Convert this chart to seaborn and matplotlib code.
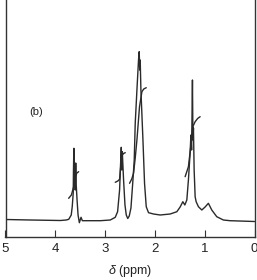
import matplotlib
matplotlib.use("Agg")
import matplotlib.pyplot as plt
import seaborn as sns
import pandas as pd

# Spectrum trace (chemical shift in ppm, intensity in arbitrary units)
shift = [5.0, 4.50, 3.90, 3.78, 3.73, 3.68, 3.66, 3.64, 3.635, 3.627, 3.62, 3.607,
         3.60, 3.59, 3.58, 3.563, 3.543, 3.517, 3.483, 3.457, 3.357, 3.096, 2.896,
         2.796, 2.749, 2.709, 2.69, 2.675, 2.665, 2.655, 2.629, 2.601, 2.575, 2.545,
         2.515, 2.481, 2.441, 2.415, 2.395, 2.361, 2.329, 2.315, 2.305, 2.295, 2.281,
         2.240, 2.208, 2.174, 2.128, 2.028, 1.894, 1.693, 1.559, 1.493, 1.439, 1.399,
         1.359, 1.327, 1.293, 1.277, 1.263, 1.246, 1.236, 1.226, 1.212, 1.192, 1.172,
         1.126, 1.058, 0.992, 0.926, 0.858, 0.758, 0.625, 0.491, 0.0]
intensity = [17.5, 17, 16.5, 17, 17.7, 22, 30.3, 44, 67, 88.7, 52, 62,
             47, 74, 52, 37, 22, 14.3, 19.7, 16.3, 16.3, 16.3, 17,
             19.7, 25.3, 47, 72, 89.7, 67, 85.3, 57, 32, 22, 18.5,
             21, 29, 57, 77, 113.7, 147, 177, 185.3, 167, 177, 147,
             97, 53.7, 30.3, 24.3, 23, 22, 23, 25.3, 30, 35.3, 32,
             37, 57, 84, 102, 87, 157, 97, 109, 67, 40.3, 35.3,
             30.3, 27, 30, 33.7, 27, 20.3, 17, 16.3, 15.5]

# Integral traces
int1_shift = [3.732, 3.677, 3.631, 3.613, 3.597, 3.567, 3.531]
int1_value = [38.7, 42, 50.3, 56, 60.3, 64, 65.3]
int2_shift = [2.796, 2.745, 2.709, 2.681, 2.655, 2.625, 2.595]
int2_value = [54.7, 56, 57.7, 73.7, 82, 83.7, 84.3]
int3_shift = [2.509, 2.465, 2.429, 2.395, 2.361, 2.309, 2.261, 2.224, 2.174]
int3_value = [53.7, 58, 63.7, 79, 97, 130.3, 145.3, 148, 149.3]
int4_shift = [1.393, 1.327, 1.273, 1.239, 1.192, 1.142, 1.092]
int4_value = [60.3, 70.3, 93.7, 110.3, 115.3, 118.5, 120.3]

tick_values = [5, 4, 3, 2, 1, 0]
tick_labels = ["5", "4", "3", "2", "1", "0"]

sns.set_theme(style="white")
plt.rcParams["font.family"] = ["Liberation Sans", "DejaVu Sans"]
plt.rcParams["mathtext.fontset"] = "custom"
plt.rcParams["mathtext.it"] = "Liberation Sans:italic"
plt.rcParams["mathtext.rm"] = "Liberation Sans"

fig = plt.figure(figsize=(2.57, 2.80), dpi=100)
ax = fig.add_axes([5.5 / 257, 43 / 280, 249 / 257, 237 / 280])

line_col = "#2a2a2a"
spec = pd.DataFrame({"shift": shift, "intensity": intensity})
sns.lineplot(data=spec, x="shift", y="intensity", sort=False, estimator=None,
             color=line_col, linewidth=1.0, ax=ax)
for xs, ys in [(int1_shift, int1_value), (int2_shift, int2_value),
               (int3_shift, int3_value), (int4_shift, int4_value)]:
    d = pd.DataFrame({"shift": xs, "value": ys})
    sns.lineplot(data=d, x="shift", y="value", sort=False, estimator=None,
                 color=line_col, linewidth=1.0, ax=ax)

ax.set_xlim(5, 0)
ax.set_ylim(0, 237)
ax.set_yticks([])
ax.set_xticks(tick_values)
ax.set_xticklabels(tick_labels, fontsize=9.5, color="#222222")
ax.tick_params(axis="x", direction="in", length=5, width=0.8, color="#333333",
               pad=4, bottom=True)
ax.set_xlabel(r"$\delta$ (ppm)", fontsize=9, color="#222222", labelpad=6)
ax.set_ylabel("")
for side in ["left", "right", "bottom"]:
    ax.spines[side].set_visible(True)
    ax.spines[side].set_color("#333333")
    ax.spines[side].set_linewidth(1.0)
ax.spines["top"].set_visible(False)

ax.text(4.39, 125, "(b)", fontsize=8, ha="center", va="center", color="#222222")

fig.savefig("out.png", dpi=100)
